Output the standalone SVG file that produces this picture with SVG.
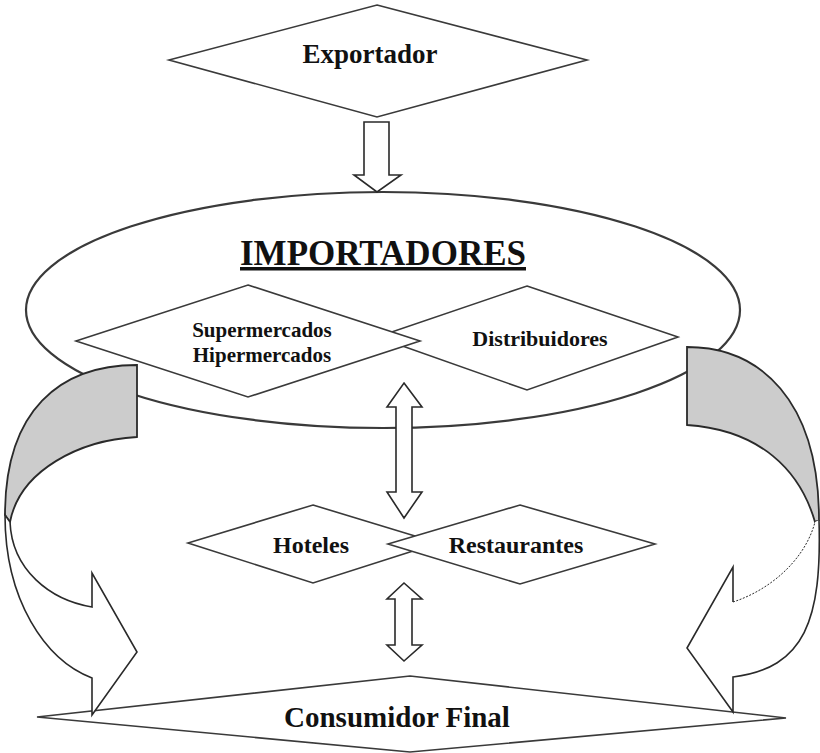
<svg xmlns="http://www.w3.org/2000/svg" width="820" height="753" viewBox="0 0 820 753">
  <style>
    .shape { fill: #ffffff; stroke: #3a3a3a; stroke-width: 1.6; stroke-linejoin: miter; }
    .ell { fill: #ffffff; stroke: #3a3a3a; stroke-width: 2.2; }
    .arrow { fill: #ffffff; stroke: #2a2a2a; stroke-width: 1.6; stroke-linejoin: miter; }
    .back { fill: #cccccc; stroke: #2a2a2a; stroke-width: 1.8; stroke-linejoin: miter; }
    .nofill { fill: none; stroke: #2a2a2a; stroke-width: 1.6; stroke-linejoin: miter; }
    .dot { fill: none; stroke: #2a2a2a; stroke-width: 1; stroke-dasharray: 2 1.5; }
    .lbl { font-family: "Liberation Serif", "Times New Roman", serif; font-weight: bold; fill: #111111; text-anchor: middle; }
  </style>
  <rect width="820" height="753" fill="#ffffff"/>

  <g id="exportador">
    <polygon class="shape" points="377,5 587,60 377,117 169,60"/>
    <text class="lbl" x="370" y="63" font-size="27">Exportador</text>
  </g>

  <g id="importadores">
    <ellipse class="ell" cx="383" cy="310" rx="357" ry="118"/>
    <text class="lbl" x="383" y="265" font-size="35" textLength="286" lengthAdjust="spacingAndGlyphs" text-decoration="underline">IMPORTADORES</text>
  </g>

  <g id="distribuidores">
    <polygon class="shape" points="527,286 678,337 527,390 377,337"/>
    <text class="lbl" x="540" y="346" font-size="22">Distribuidores</text>
  </g>

  <g id="supermercados">
    <polygon class="shape" points="248,285 420,341 248,397 76,341"/>
    <text class="lbl" x="262" y="337" font-size="21">Supermercados</text>
    <text class="lbl" x="262" y="362" font-size="21">Hipermercados</text>
  </g>

  <g id="hoteles">
    <polygon class="shape" points="313,505 438,543 313,583 188,543"/>
    <text class="lbl" x="311" y="553" font-size="24">Hoteles</text>
  </g>

  <g id="restaurantes">
    <polygon class="shape" points="520,505 655,544 520,584 388,544"/>
    <text class="lbl" x="516" y="553" font-size="24">Restaurantes</text>
  </g>

  <g id="consumidor">
    <polygon class="shape" points="410,676 786,718 410,752 37,717"/>
    <text class="lbl" x="397" y="727" font-size="29">Consumidor Final</text>
  </g>

  <g id="connectors">
    <polygon class="arrow" points="364,122 389,122 389,175 401,175 377,192 354,175 364,175"/>
    <polygon class="arrow" points="404,383 422,407 412,407 412,492 422,492 404,518 387,492 396,492 396,407 387,407"/>
    <polygon class="arrow" points="404,583 422,599 412,599 412,645 422,645 404,661 387,645 395,645 395,599 387,599"/>

    <g id="curved-left">
      <path class="back" d="M137,365 C60,365 5,410 5,515 L10,522 C20,470 80,440 137,437 Z"/>
      <path class="arrow" d="M5,515 C5,600 45,660 92,678 L92,715 L137,652 L92,573 L92,607 C50,600 12,570 10,522 Z"/>
    </g>
    <g id="curved-right">
      <path class="back" d="M687,347 C760,347 819,400 819,520 L815,522 C800,470 760,430 687,425 Z"/>
      <path d="M819,520 C822,620 805,668 733,677 L733,712 L687,648 L733,567 L733,602 C770,590 805,560 815,522 Z" fill="#ffffff" stroke="none"/>
      <path class="nofill" d="M819,520 C822,620 805,668 733,677 L733,712 L687,648 L733,567 L733,602"/>
      <path class="dot" d="M733,602 C770,590 805,560 815,522"/>
    </g>
  </g>
</svg>
